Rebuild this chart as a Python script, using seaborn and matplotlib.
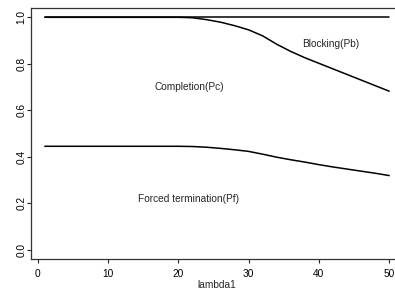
import matplotlib
matplotlib.use("Agg")
import matplotlib.pyplot as plt
import seaborn as sns
import pandas as pd

# ---- data ----
lambda1 = [1, 5, 10, 15, 20, 22, 24, 26, 28, 30, 32, 34, 36, 38, 40, 42, 44, 46, 48, 50]
total = [1.0] * len(lambda1)
pc_plus_pf = [1.0, 1.0, 1.0, 1.0, 1.0, 0.998, 0.99, 0.979, 0.964, 0.946, 0.920, 0.884,
              0.853, 0.826, 0.802, 0.778, 0.754, 0.730, 0.706, 0.682]
pf = [0.445, 0.445, 0.445, 0.445, 0.445, 0.444, 0.441, 0.436, 0.430, 0.423, 0.411, 0.398,
      0.387, 0.377, 0.366, 0.356, 0.347, 0.338, 0.329, 0.319]

x_ticks = [0, 10, 20, 30, 40, 50]
y_ticks = [0.0, 0.2, 0.4, 0.6, 0.8, 1.0]
y_ticklabels = ["0.0", "0.2", "0.4", "0.6", "0.8", "1.0"]
region_labels = ["Blocking(Pb)", "Completion(Pc)", "Forced termination(Pf)"]
region_x = [41.7, 21.6, 21.5]
region_y = [0.885, 0.70, 0.22]
x_label = "lambda1"

df = pd.DataFrame({"lambda1": lambda1, "total": total, "pcpf": pc_plus_pf, "pf": pf})

sns.set_style("white")
plt.rcParams["font.family"] = ["Liberation Sans", "DejaVu Sans"]

W, H = 395, 289
fig = plt.figure(figsize=(W / 100, H / 100), dpi=100)
left, right, top, bottom = 31, 403, 8, 259
ax = fig.add_axes([left / W, (H - bottom) / H, (right - left) / W, (bottom - top) / H])

for col in ["total", "pcpf", "pf"]:
    sns.lineplot(data=df, x="lambda1", y=col, ax=ax, color="black", linewidth=1.1)

ax.set_xlim(-0.96, 51.96)
ax.set_ylim(-0.04, 1.04)
ax.set_xticks(x_ticks)
ax.set_yticks(y_ticks)
ax.set_yticklabels(y_ticklabels, rotation=90, va="center")
ax.tick_params(axis="both", direction="out", length=3, width=0.8, labelsize=7.3,
               colors="#222222", labelcolor="black", left=True, bottom=True)
ax.tick_params(axis="x", pad=4)
ax.tick_params(axis="y", pad=0.5)
ax.set_xlabel(x_label, fontsize=7.3, labelpad=1)
ax.set_ylabel("")

for s in ax.spines.values():
    s.set_color("#333333")
    s.set_linewidth(0.9)
    s.set_visible(True)

for t, xx, yy in zip(region_labels, region_x, region_y):
    ax.text(xx, yy, t, fontsize=7.3, ha="center", va="center")

fig.savefig("out.png", dpi=100)
